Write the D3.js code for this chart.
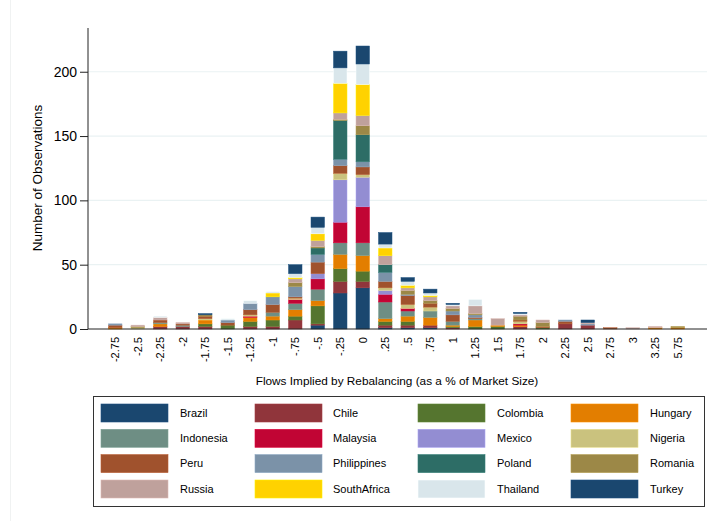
<!DOCTYPE html>
<html>
<head>
<meta charset="utf-8">
<script src="https://cdn.jsdelivr.net/npm/d3@7"></script>
<style>
  body { margin: 0; background: #fff; }
  svg { display: block; font-family: "Liberation Sans", Arial, Helvetica, sans-serif; }
</style>
</head>
<body>
<div id="chart"></div>
<script>
// Flow buckets (x axis) and count of observations per country in each bucket
const buckets = ["-2.75","-2.5","-2.25","-2","-1.75","-1.5","-1.25","-1","-.75","-.5","-.25","0",
                 ".25",".5",".75","1","1.25","1.5","1.75","2","2.25","2.5","2.75","3","3.25","5.75"];

const countries = ["Brazil","Chile","Colombia","Hungary","Indonesia","Malaysia","Mexico","Nigeria",
                   "Peru","Philippines","Poland","Romania","Russia","SouthAfrica","Thailand","Turkey"];

const colors = ["#1a476f","#90353b","#55752f","#e37e00","#6e8e84","#c10534","#938dd2","#cac27e",
                "#a0522d","#7b92a8","#2d6d66","#9c8847","#bfa19c","#ffd200","#d9e6eb","#1a476f"];

//                   -2.75 -2.5 -2.25 -2 -1.75 -1.5 -1.25 -1 -.75 -.5 -.25  0  .25 .5 .75 1 1.25 1.5 1.75 2 2.25 2.5 2.75 3 3.25 5.75
const brazil      = [0, 0, 0, 0, 0, 0, 0, 0, 0, 3, 28, 32,  1, 1, 1, 0, 0, 0, 0, 0, 0, 0, 0, 0, 0, 0];
const chile       = [0, 0, 2, 2, 2, 0, 2, 2, 7, 1,  9,  5,  2, 2, 2, 1, 0, 0, 2, 0, 4, 3, 0, 0, 0, 0];
const colombia    = [0, 0, 0, 0, 2, 3, 4, 5, 3,14, 10,  8,  3, 3, 0, 1, 2, 2, 0, 1, 0, 0, 0, 0, 0, 0];
const hungary     = [1, 0, 2, 0, 3, 0, 3, 3, 5, 4, 11, 12,  2, 4, 6, 1, 5, 1, 1, 0, 0, 0, 0, 0, 1, 1];
const indonesia   = [0, 0, 1, 1, 0, 0, 0, 3, 5, 9,  9, 10, 13, 4, 5, 3, 1, 0, 0, 0, 0, 0, 0, 0, 0, 0];
const malaysia    = [0, 0, 0, 0, 0, 0, 1, 0, 3, 8, 16, 28,  6, 2, 0, 0, 0, 0, 1, 0, 0, 0, 0, 0, 0, 0];
const mexico      = [0, 0, 0, 0, 0, 0, 0, 0, 0, 4, 33, 23,  3, 0, 0, 0, 0, 0, 0, 0, 0, 0, 0, 0, 0, 0];
const nigeria     = [0, 1, 0, 0, 1, 0, 1, 0, 1, 0,  5,  2,  2, 3, 3, 0, 0, 0, 2, 0, 0, 0, 0, 0, 0, 0];
const peru        = [2, 0, 2, 1, 2, 2, 4, 6, 1, 9,  6,  6,  5, 7, 3, 5, 1, 0, 1, 1, 2, 0, 1, 0, 0, 0];
const philippines = [1, 0, 0, 0, 0, 2, 5, 6, 8, 6,  5,  4,  7, 1, 0, 3, 2, 0, 0, 0, 1, 1, 0, 0, 0, 0];
const poland      = [0, 0, 0, 0, 0, 0, 0, 0, 0, 5, 30, 21,  6, 0, 0, 0, 0, 0, 0, 0, 0, 0, 0, 0, 0, 0];
const romania     = [0, 1, 0, 0, 1, 0, 0, 0, 3, 1,  1,  7,  0, 3, 2, 2, 1, 0, 3, 3, 0, 0, 0, 0, 0, 1];
const russia      = [0, 1, 2, 1, 0, 0, 0, 0, 3, 5,  5,  8,  7, 2, 3, 2, 6, 5, 1, 2, 0, 1, 0, 1, 1, 0];
const southAfrica = [0, 0, 0, 0, 0, 0, 0, 3, 1, 5, 23, 24,  6, 2, 1, 0, 0, 0, 0, 0, 0, 0, 0, 0, 0, 0];
const thailand    = [0, 0, 1, 0, 0, 1, 2, 1, 3, 5, 12, 16,  3, 3, 2, 1, 5, 0, 1, 0, 0, 0, 0, 0, 0, 0];
const turkey      = [0, 0, 0, 0, 1, 0, 0, 0, 7, 8, 13, 14,  9, 3, 3, 1, 0, 0, 1, 0, 0, 2, 0, 0, 0, 0];

const series = [brazil, chile, colombia, hungary, indonesia, malaysia, mexico, nigeria,
                peru, philippines, poland, romania, russia, southAfrica, thailand, turkey];
const yTicks = [0, 50, 100, 150, 200];

// Build the table for d3.stack
const rows = buckets.map((b, i) => {
    const r = {bucket: b};
    countries.forEach((c, k) => { r[c] = series[k][i]; });
    return r;
});
const stacked = d3.stack().keys(countries)(rows);

const width = 713, height = 521;
const plot = {left: 88, right: 707, top: 28, bottom: 329};

const svg = d3.select("#chart").append("svg")
    .attr("width", width)
    .attr("height", height);

// faint page edge on the left
svg.append("line")
    .attr("x1", 10.5).attr("x2", 10.5).attr("y1", 0).attr("y2", height)
    .attr("stroke", "#f0f2f2").attr("stroke-width", 1);

const x = d3.scaleBand()
    .domain(buckets)
    .range([104, 689])
    .paddingInner(0.4)
    .paddingOuter(0.2);

const y = d3.scaleLinear()
    .domain([0, 234])
    .range([plot.bottom, plot.top]);

// Grid lines
svg.append("g")
    .selectAll("line")
    .data(yTicks.filter(d => d > 0))
    .enter().append("line")
    .attr("x1", plot.left).attr("x2", plot.right)
    .attr("y1", d => y(d)).attr("y2", d => y(d))
    .attr("stroke", "#eaf2f3")
    .attr("stroke-width", 1.2);

// Bars
svg.append("g")
    .selectAll("g")
    .data(stacked)
    .enter().append("g")
    .attr("fill", (d, i) => colors[i])
    .attr("stroke", (d, i) => d3.color(colors[i]).brighter(0.4))
    .attr("stroke-width", 0.5)
    .selectAll("rect")
    .data(d => d.filter(s => s[1] - s[0] > 0))
    .enter().append("rect")
    .attr("x", d => x(d.data.bucket))
    .attr("width", x.bandwidth())
    .attr("y", d => y(d[1]))
    .attr("height", d => y(d[0]) - y(d[1]));

// Y axis
const yAxis = svg.append("g")
    .attr("transform", `translate(${plot.left},0)`)
    .call(d3.axisLeft(y).tickValues(yTicks).tickSize(8).tickPadding(3).tickSizeOuter(0));
yAxis.select(".domain").attr("stroke", "#222").attr("d", `M0,${plot.top}V${plot.bottom}`);
yAxis.selectAll(".tick line").attr("stroke", "#222");
yAxis.selectAll("text").attr("font-size", "14px").attr("fill", "#000")
    .attr("font-family", "Liberation Sans, Arial, sans-serif");

// X axis
const xAxis = svg.append("g")
    .attr("transform", `translate(0,${plot.bottom})`)
    .call(d3.axisBottom(x).tickSize(0).tickPadding(0));
xAxis.select(".domain").attr("stroke", "#222").attr("d", `M${plot.left},0H${plot.right}`);
xAxis.selectAll("text")
    .attr("font-size", "11px")
    .attr("font-family", "Liberation Sans, Arial, sans-serif")
    .attr("fill", "#000")
    .attr("text-anchor", "end")
    .attr("dy", "0.35em")
    .attr("transform", "translate(0,8) rotate(-90)")
    .attr("x", 0).attr("y", 0);

// Axis titles
svg.append("text")
    .attr("x", 397).attr("y", 385)
    .attr("text-anchor", "middle")
    .attr("font-size", "11.8px")
    .text("Flows Implied by Rebalancing (as a % of Market Size)");

svg.append("text")
    .attr("transform", "translate(42,178) rotate(-90)")
    .attr("text-anchor", "middle")
    .attr("font-size", "13.5px")
    .text("Number of Observations");

// Legend
const legend = svg.append("g");
legend.append("rect")
    .attr("x", 93.5).attr("y", 396.5)
    .attr("width", 611).attr("height", 110)
    .attr("fill", "#fff")
    .attr("stroke", "#333")
    .attr("stroke-width", 1);

const colX = [101, 255, 418, 571];
const labelX = [180, 333, 497, 650];
const rowY = [404, 429.3, 454.6, 480];

const items = legend.selectAll("g.item")
    .data(countries)
    .enter().append("g")
    .attr("class", "item");

items.append("rect")
    .attr("x", (d, i) => colX[i % 4])
    .attr("y", (d, i) => rowY[Math.floor(i / 4)])
    .attr("width", 67).attr("height", 18)
    .attr("fill", (d, i) => colors[i])
    .attr("stroke", (d, i) => d3.color(colors[i]).brighter(0.4))
    .attr("stroke-width", 0.6);

items.append("text")
    .attr("x", (d, i) => labelX[i % 4])
    .attr("y", (d, i) => rowY[Math.floor(i / 4)] + 9)
    .attr("dy", "0.35em")
    .attr("font-size", "11px")
    .attr("fill", "#000")
    .text(d => d);
</script>
</body>
</html>
